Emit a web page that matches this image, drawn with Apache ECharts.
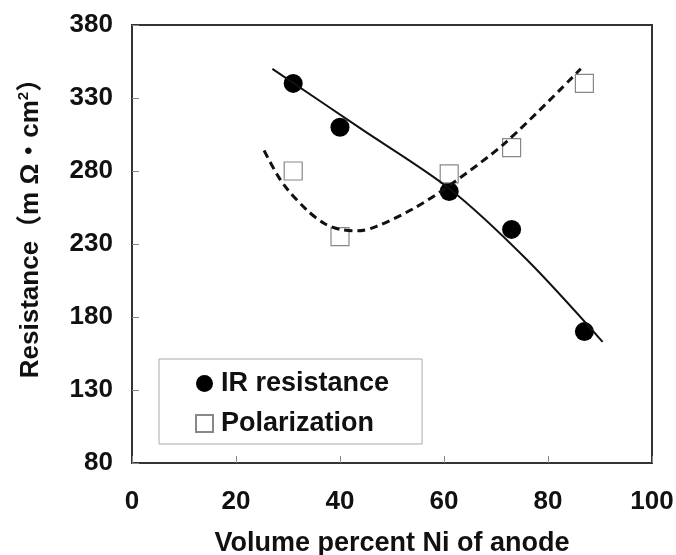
<!DOCTYPE html>
<html>
<head>
<meta charset="utf-8">
<script src="https://cdn.jsdelivr.net/npm/echarts@6/dist/echarts.min.js"></script>
<style>
  html, body { margin: 0; padding: 0; background: #fff; }
  #chart { width: 676px; height: 555px; }
</style>
</head>
<body>
<div id="chart"></div>
<script>
// Measured anode compositions (vol% Ni) and resistances (mΩ·cm²)
const niPercent = [31, 40, 61, 73, 87];
const irResistance = [340, 310, 266, 240, 170];
const polarization = [280, 235, 278, 296, 340];

// Trend curves through each data set
const irTrendX = [27, 44, 61, 76, 90.5];
const irTrendY = [350, 309, 268, 219, 163];
const polTrendX = [25.4, 28, 30, 33.7, 37, 40, 43.5, 47, 54, 61, 72, 86.3];
const polTrendY = [294, 277, 267, 253, 244, 240, 239, 242, 254, 270, 300, 350];

// Axis ticks
const xTicks = { min: 0, max: 100, step: 20 };
const yTicks = { min: 80, max: 380, step: 50 };

const pairs = (xs, ys) => xs.map((x, i) => [x, ys[i]]);

const FONT = "'Liberation Sans', 'Noto Sans CJK JP', sans-serif";
const INK = '#111';

const chart = echarts.init(document.getElementById('chart'), null, { renderer: 'canvas' });

chart.setOption({
  backgroundColor: '#fff',
  animation: false,
  grid: {
    left: 132, right: 24, top: 25, bottom: 92,
    containLabel: false,
    outerBoundsMode: 'none',
    show: true, borderColor: '#333', borderWidth: 2, backgroundColor: 'transparent'
  },
  legend: {
    data: ['IR resistance', 'Polarization'],
    orient: 'vertical',
    left: 159, top: 359,
    padding: [11, 33, 7, 36],
    itemGap: 13,
    itemWidth: 17, itemHeight: 17,
    borderColor: '#aaa', borderWidth: 1,
    backgroundColor: '#fff',
    textStyle: { fontFamily: FONT, fontSize: 27, fontWeight: 'bold', color: INK, lineHeight: 26, padding: [0, 0, 0, 3] }
  },
  xAxis: {
    type: 'value',
    min: xTicks.min, max: xTicks.max, interval: xTicks.step,
    name: 'Volume percent Ni of anode',
    nameLocation: 'middle',
    nameGap: 67,
    nameTextStyle: { fontFamily: FONT, fontSize: 27, fontWeight: 'bold', color: INK },
    axisLine: { show: true, lineStyle: { color: '#333', width: 2 } },
    axisTick: { show: true, inside: true, length: 7, lineStyle: { color: '#888', width: 1 } },
    axisLabel: { fontFamily: FONT, fontSize: 26, fontWeight: 'bold', color: INK, margin: 26 },
    splitLine: { show: false }
  },
  yAxis: {
    type: 'value',
    min: yTicks.min, max: yTicks.max, interval: yTicks.step,
    name: 'Resistance（m Ω・cm{sup|2}）',
    nameLocation: 'middle',
    nameRotate: 90,
    nameGap: 86,
    nameTextStyle: {
      fontFamily: FONT, fontSize: 26, fontWeight: 'bold', color: INK, lineHeight: 30,
      padding: [0, 0, 0, 44],
      rich: {
        sup: { fontFamily: FONT, fontSize: 15, fontWeight: 'bold', color: INK, lineHeight: 15, verticalAlign: 'top' }
      }
    },
    axisLine: { show: true, lineStyle: { color: '#333', width: 2 } },
    axisTick: { show: true, inside: true, length: 7, lineStyle: { color: '#888', width: 1 } },
    axisLabel: { fontFamily: FONT, fontSize: 26, fontWeight: 'bold', color: INK, margin: 19 },
    splitLine: { show: false }
  },
  series: [
    {
      name: 'IR resistance',
      type: 'scatter',
      data: pairs(niPercent, irResistance),
      symbol: 'circle',
      symbolSize: 19,
      itemStyle: { color: '#000', opacity: 1 },
      z: 2
    },
    {
      name: 'Polarization',
      type: 'scatter',
      data: pairs(niPercent, polarization),
      symbol: 'rect',
      symbolSize: 18,
      itemStyle: { color: '#fff', borderColor: '#888', borderWidth: 1.2, opacity: 1 },
      z: 2
    },
    {
      name: 'IR trend',
      type: 'line',
      data: pairs(irTrendX, irTrendY),
      smooth: 0.3,
      showSymbol: false,
      lineStyle: { color: '#111', width: 2 },
      z: 3
    },
    {
      name: 'Polarization trend',
      type: 'line',
      data: pairs(polTrendX, polTrendY),
      smooth: 0.3,
      showSymbol: false,
      lineStyle: { color: '#111', width: 3, type: [8, 5] },
      z: 3
    }
  ]
});
</script>
</body>
</html>
